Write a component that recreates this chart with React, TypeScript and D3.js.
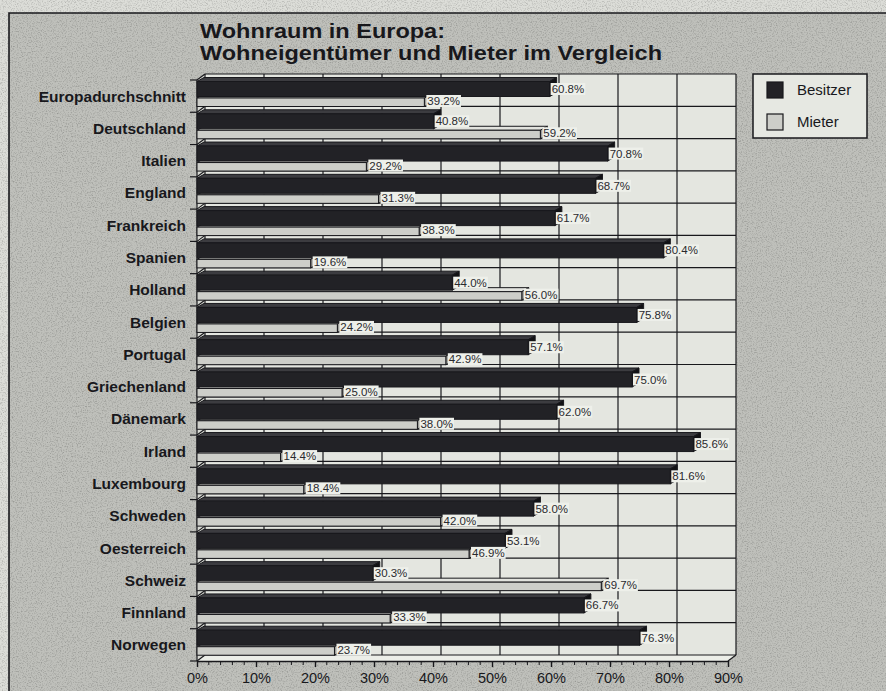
import React, { useRef, useEffect } from 'react';
import * as d3 from 'd3';

const categories = [
  'Europadurchschnitt', 'Deutschland', 'Italien', 'England', 'Frankreich', 'Spanien',
  'Holland', 'Belgien', 'Portugal', 'Griechenland', 'Dänemark', 'Irland',
  'Luxembourg', 'Schweden', 'Oesterreich', 'Schweiz', 'Finnland', 'Norwegen',
];
const besitzer = [60.8, 40.8, 70.8, 68.7, 61.7, 80.4, 44.0, 75.8, 57.1, 75.0, 62.0, 85.6, 81.6, 58.0, 53.1, 30.3, 66.7, 76.3];
const mieter = [39.2, 59.2, 29.2, 31.3, 38.3, 19.6, 56.0, 24.2, 42.9, 25.0, 38.0, 14.4, 18.4, 42.0, 46.9, 69.7, 33.3, 23.7];
const tickValues = [0, 10, 20, 30, 40, 50, 60, 70, 80, 90];
const seriesNames = ['Besitzer', 'Mieter'];
const titleLines = ['Wohnraum in Europa:', 'Wohneigentümer und Mieter im Vergleich'];

const App = () => {
  const svgRef = useRef(null);
  const width = 886;
  const height = 691;

  useEffect(() => {
    document.body.style.margin = '0';
    const svg = d3.select(svgRef.current).attr('width', width).attr('height', height);
    svg.selectAll('*').remove();

    const font = '"Liberation Sans", Arial, sans-serif';
    const ink = '#18181c';

    // plot geometry (front plane) and 3D depth offset
    const left = 197, right = 728, top = 80, bottom = 661;
    const dx = 8, dy = -6;
    const bdx = 7, bdy = -4;

    const xAxis = d3.scaleLinear().domain([0, 90]).range([left, right]);
    const xBar = d3.scaleLinear().domain([0, 90]).range([left, 719]);
    const y = d3.scaleBand().domain(categories).range([top, bottom]);
    const rowH = y.bandwidth();

    // texture filter
    const defs = svg.append('defs');
    const f = defs.append('filter').attr('id', 'grain').attr('x', 0).attr('y', 0).attr('width', '100%').attr('height', '100%');
    f.append('feTurbulence').attr('type', 'fractalNoise').attr('baseFrequency', 0.8).attr('numOctaves', 2).attr('seed', 3);
    f.append('feColorMatrix').attr('type', 'matrix')
      .attr('values', '0 0 0 0 0  0 0 0 0 0  0 0 0 0 0  0 0 0 -1.4 0.75');

    // paper + frame background
    svg.append('rect').attr('width', width).attr('height', height).attr('fill', '#dcddd8');
    svg.append('rect').attr('x', 9).attr('y', 13).attr('width', width - 9).attr('height', height - 13).attr('fill', '#bfc0bb');
    svg.append('rect').attr('width', width).attr('height', height).attr('filter', 'url(#grain)').attr('opacity', 0.35);
    svg.append('path').attr('d', `M9,${height}V13H${width}`).attr('fill', 'none').attr('stroke', ink).attr('stroke-width', 1.6);

    // title
    titleLines.forEach((t, i) => {
      svg.append('text')
        .attr('x', 200).attr('y', 38 + i * 22)
        .attr('font-family', font).attr('font-weight', 'bold').attr('font-size', 21)
        .attr('textLength', i === 0 ? 245 : 462).attr('lengthAdjust', 'spacingAndGlyphs')
        .attr('fill', ink).text(t);
    });

    // 3D box: back wall, left wall, floor
    const bl = left + dx, bt = top + dy, br = right + dx, bb = bottom + dy;
    svg.append('rect').attr('x', bl).attr('y', bt).attr('width', br - bl).attr('height', bb - bt).attr('fill', '#e4e6e0');
    svg.append('polygon').attr('points', `${left},${top} ${bl},${bt} ${bl},${bb} ${left},${bottom}`).attr('fill', '#d8dad4');
    svg.append('polygon').attr('points', `${left},${bottom} ${bl},${bb} ${br},${bb} ${right},${bottom}`).attr('fill', '#eceee8');

    const grid = svg.append('g').attr('stroke', ink).attr('stroke-width', 1.2).attr('fill', 'none');
    tickValues.slice(1).forEach(t => {
      grid.append('line').attr('x1', xAxis(t) + dx).attr('x2', xAxis(t) + dx).attr('y1', bt).attr('y2', bb);
    });
    const bounds = categories.map(c => y(c) as number).concat([bottom]);
    bounds.forEach(b => {
      grid.append('line').attr('x1', bl).attr('x2', br).attr('y1', b + dy).attr('y2', b + dy);
      grid.append('line').attr('x1', left).attr('x2', bl).attr('y1', b).attr('y2', b + dy);
      grid.append('line').attr('x1', left - 7).attr('x2', left).attr('y1', b).attr('y2', b);
    });
    grid.append('line').attr('x1', bl).attr('x2', bl).attr('y1', bt).attr('y2', bb);
    grid.append('line').attr('x1', left).attr('x2', left).attr('y1', top).attr('y2', bottom);
    grid.append('line').attr('x1', right).attr('x2', br).attr('y1', bottom).attr('y2', bb);

    // one 3D bar
    const bar = (g: any, x1: number, y1: number, h: number, front: string, topC: string, side: string) => {
      const y2 = y1 + h;
      g.append('polygon')
        .attr('points', `${left},${y1} ${left + bdx},${y1 + bdy} ${x1 + bdx},${y1 + bdy} ${x1},${y1}`)
        .attr('fill', topC).attr('stroke', ink).attr('stroke-width', 1);
      g.append('polygon')
        .attr('points', `${x1},${y1} ${x1 + bdx},${y1 + bdy} ${x1 + bdx},${y2 + bdy} ${x1},${y2}`)
        .attr('fill', side).attr('stroke', ink).attr('stroke-width', 1);
      g.append('rect').attr('x', left).attr('y', y1).attr('width', x1 - left).attr('height', h)
        .attr('fill', front).attr('stroke', ink).attr('stroke-width', 1);
    };

    const label = (g: any, x: number, yb: number, txt: string) => {
      const t = g.append('text').attr('x', x).attr('y', yb)
        .attr('font-family', font).attr('font-size', 11.5).attr('fill', '#2a2a2e').text(txt);
      const w = (t.node() as SVGTextElement).getComputedTextLength();
      g.insert('rect', 'text:last-of-type').attr('x', x - 1).attr('y', yb - 10).attr('width', w + 2).attr('height', 12)
        .attr('fill', '#eef0ea');
    };

    const rows = svg.append('g');
    categories.forEach((c, i) => {
      const y0 = y(c) as number;
      const g = rows.append('g');
      bar(g, xBar(mieter[i]), y0 + 18, 8.5, '#cdcec9', '#e2e3de', '#9d9e9a');
      bar(g, xBar(besitzer[i]), y0 + 1.5, 15, '#222226', '#3c3c40', '#111114');
      const lg = rows.append('g');
      label(lg, xBar(besitzer[i]) + 2, y0 + 13, `${besitzer[i].toFixed(1)}%`);
      label(lg, xBar(mieter[i]) + 3, y0 + 25, `${mieter[i].toFixed(1)}%`);

      svg.append('text').attr('x', 186).attr('y', y0 + rowH / 2 + 5.5)
        .attr('text-anchor', 'end').attr('font-family', font).attr('font-weight', 'bold')
        .attr('font-size', 15.5).attr('fill', ink).text(c);
    });

    // bottom axis
    const axis = svg.append('g').attr('transform', `translate(0,${bottom})`)
      .call(d3.axisBottom(xAxis).tickValues(tickValues).tickFormat(d => `${d}%`).tickSize(6).tickSizeOuter(0).tickPadding(6));
    axis.select('.domain').attr('stroke', ink).attr('stroke-width', 1.4);
    axis.selectAll('.tick line').attr('stroke', ink).attr('stroke-width', 1.4);
    axis.selectAll('.tick text').attr('font-family', font).attr('font-size', 14.5).attr('fill', ink);
    d3.range(0, 91, 2).filter(v => v % 10 !== 0).forEach(v => {
      axis.append('line').attr('x1', xAxis(v)).attr('x2', xAxis(v)).attr('y1', 0).attr('y2', 4)
        .attr('stroke', ink).attr('stroke-width', 1);
    });

    // legend
    const lgd = svg.append('g');
    lgd.append('rect').attr('x', 753).attr('y', 74).attr('width', 114).attr('height', 64)
      .attr('fill', '#e6e8e2').attr('stroke', ink).attr('stroke-width', 1.5);
    seriesNames.forEach((s, i) => {
      lgd.append('rect').attr('x', 767).attr('y', 82 + i * 32).attr('width', 16).attr('height', 16)
        .attr('fill', i === 0 ? '#222226' : '#cdcec9').attr('stroke', ink).attr('stroke-width', 1.2);
      lgd.append('text').attr('x', 797).attr('y', 95 + i * 32)
        .attr('font-family', font).attr('font-size', 15).attr('fill', ink).text(s);
    });
  }, []);

  return <svg ref={svgRef} style={{ display: 'block' }}></svg>;
};

export default App;
